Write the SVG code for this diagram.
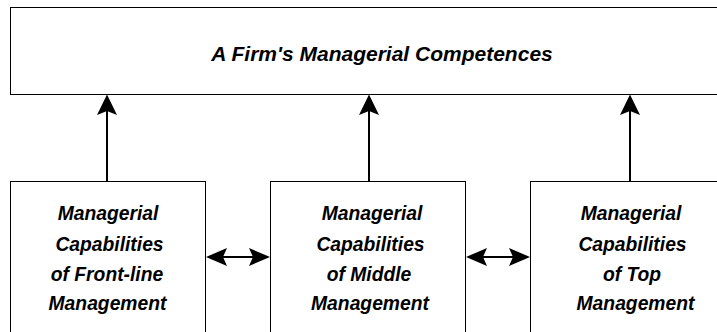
<svg xmlns="http://www.w3.org/2000/svg" width="717" height="332" viewBox="0 0 717 332">
  <style>
    .box { fill: #ffffff; stroke: #000000; stroke-width: 1; }
    .lbl { font-family: "Liberation Sans", Arial, sans-serif; font-weight: bold; font-style: italic; fill: #000000; text-anchor: middle; }
    .title { font-size: 21px; }
    .cap { font-size: 19.3px; }
    .wire { stroke: #000000; stroke-width: 2; fill: none; }
    .head { fill: #000000; stroke: none; }
  </style>
  <rect width="717" height="332" fill="#ffffff"/>

  <!-- Top-level competences box (runs off the right edge) -->
  <g id="competences">
    <rect class="box" x="10.5" y="7.5" width="720" height="87"/>
    <text class="lbl title" x="382" y="61">A Firm's Managerial Competences</text>
  </g>

  <!-- Capability boxes -->
  <g id="frontline">
    <rect class="box" x="10.5" y="181.5" width="195" height="160"/>
    <text class="lbl cap" x="108" y="220">Managerial</text>
    <text class="lbl cap" x="109.5" y="251">Capabilities</text>
    <text class="lbl cap" x="107" y="281">of Front-line</text>
    <text class="lbl cap" x="107.5" y="310">Management</text>
  </g>

  <g id="middle">
    <rect class="box" x="270.5" y="181.5" width="195" height="160"/>
    <text class="lbl cap" x="372" y="220">Managerial</text>
    <text class="lbl cap" x="370.5" y="251">Capabilities</text>
    <text class="lbl cap" x="369" y="281">of Middle</text>
    <text class="lbl cap" x="370" y="310">Management</text>
  </g>

  <g id="top">
    <rect class="box" x="530.5" y="181.5" width="200" height="160"/>
    <text class="lbl cap" x="631" y="220">Managerial</text>
    <text class="lbl cap" x="632.5" y="251">Capabilities</text>
    <text class="lbl cap" x="632" y="281">of Top</text>
    <text class="lbl cap" x="635.5" y="310">Management</text>
  </g>

  <!-- Connectors -->
  <g id="connectors">
    <!-- upward arrows into the competences box -->
    <line class="wire" x1="107" y1="181" x2="107" y2="110"/>
    <polygon class="head" points="107,94.5 97,115 107,111 117,115"/>
    <line class="wire" x1="369" y1="181" x2="369" y2="110"/>
    <polygon class="head" points="369,94.5 359,115 369,111 379,115"/>
    <line class="wire" x1="630" y1="181" x2="630" y2="110"/>
    <polygon class="head" points="630,94.5 620,115 630,111 640,115"/>

    <!-- two-way arrows between neighbouring levels -->
    <line class="wire" x1="222" y1="257" x2="254" y2="257"/>
    <polygon class="head" points="206,257 227,248 223,257 227,266"/>
    <polygon class="head" points="270,257 249,248 253,257 249,266"/>
    <line class="wire" x1="482" y1="257" x2="514" y2="257"/>
    <polygon class="head" points="466,257 487,248 483,257 487,266"/>
    <polygon class="head" points="530,257 509,248 513,257 509,266"/>
  </g>
</svg>
